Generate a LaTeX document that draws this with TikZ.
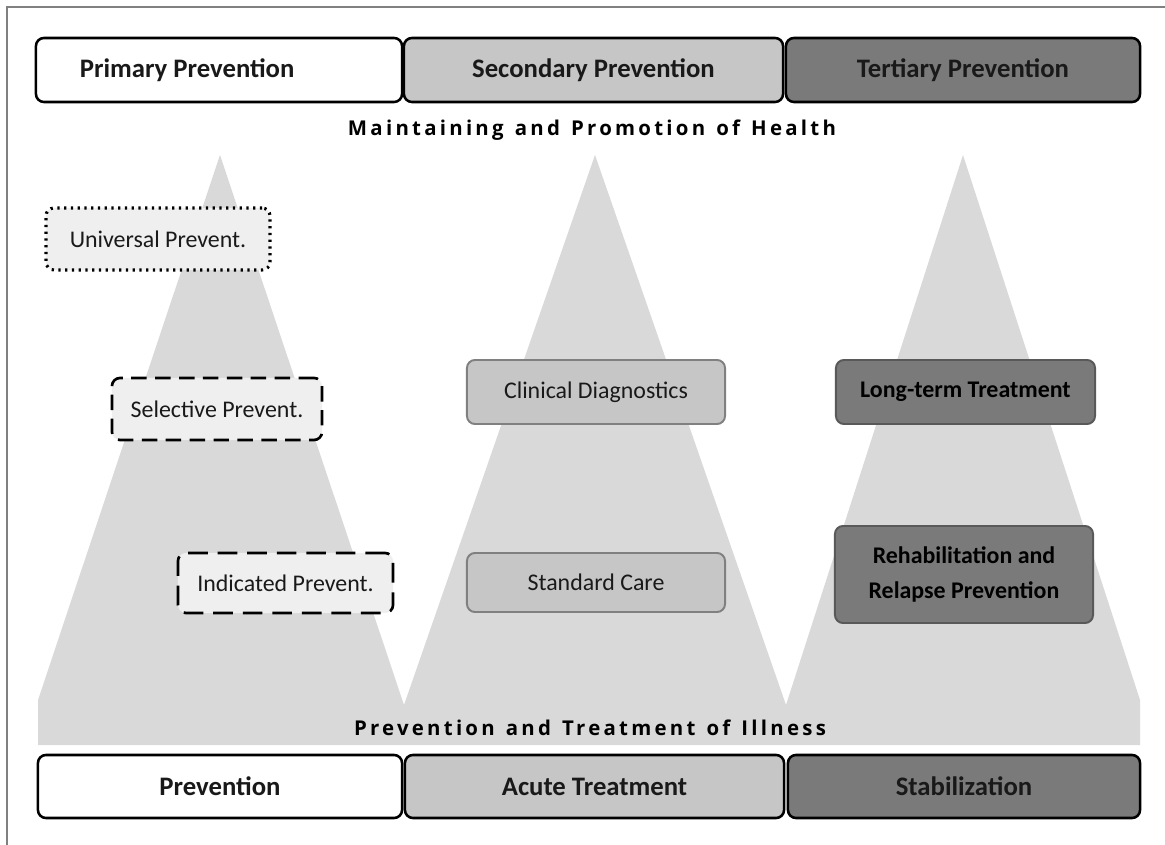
\documentclass[tikz,border=0pt]{standalone}
\usepackage{fontspec}
\setmainfont{Carlito}
\newfontfamily\spacedfont[LetterSpace=16, WordSpace=1.3, Ligatures=NoCommon]{Open Sans}

\definecolor{peak}{HTML}{D9D9D9}
\definecolor{pale}{HTML}{EFEFEF}
\definecolor{midgray}{HTML}{C6C6C6}
\definecolor{darkgray}{HTML}{7A7A7A}

\begin{document}
\begin{tikzpicture}[x=0.025cm, y=-0.025cm,
		bar/.style={draw=black, line width=1.8pt, rounded corners=0.2cm, inner sep=0pt,
			minimum height=1.6cm, font=\fontsize{19}{22}\selectfont\bfseries, text=black!90},
		prevbox/.style={draw=black, fill=pale, line width=1.9pt, rounded corners=0.2cm, inner sep=0pt,
			font=\fontsize{17}{20}\selectfont, text=black!90},
		carebox/.style={draw=black!50, fill=midgray, line width=1.4pt, rounded corners=0.2cm, inner sep=0pt,
			font=\fontsize{17}{20}\selectfont, text=black!90},
		longbox/.style={draw=black!65, fill=darkgray, line width=1.4pt, rounded corners=0.2cm, inner sep=0pt,
			font=\fontsize{17}{25}\selectfont\bfseries, text=black, align=center},
		banner/.style={font={\spacedfont\bfseries\fontsize{14.5}{17}\selectfont}, text=black}]
	\useasboundingbox (0,0) rectangle (1165,845);

	% frame
	\draw[black!50, line width=1.4pt] (7,845) -- (7,7) -- (1165,7);

	% the three peaks on a common band
	\fill[peak] (38,700) -- (220,155) -- (404,705) -- (595,155) -- (786,705)
		-- (963,155) -- (1140,700) -- (1140,745) -- (38,745) -- cycle;

	% stages
	\node[bar, fill=white, minimum width=9.15cm, text width=6.95cm, inner xsep=1.1cm, align=flush left] (primary) at (219,70) {Primary Prevention};
	\node[bar, fill=midgray, minimum width=9.475cm] (secondary) at (593.5,70) {Secondary Prevention};
	\node[bar, fill=darkgray, minimum width=8.85cm] (tertiary) at (963,70) {Tertiary Prevention};

	\node[banner] (health) at (592,130) {Maintaining and Promotion of Health};
	\node[banner] (illness) at (590,728) {Prevention and Treatment of Illness};

	\node[bar, fill=white, minimum width=9.1cm, minimum height=1.575cm] (prevention) at (220,786.5) {Prevention};
	\node[bar, fill=midgray, minimum width=9.475cm, minimum height=1.575cm] (acute) at (594.5,786.5) {Acute Treatment};
	\node[bar, fill=darkgray, minimum width=8.8cm, minimum height=1.575cm] (stabil) at (964,786.5) {Stabilization};

	% primary prevention
	\node[prevbox, line width=2.2pt, dash pattern=on 1.6pt off 3.2pt, minimum width=5.6cm, minimum height=1.55cm] (universal) at (158,239) {Universal Prevent.};
	\node[prevbox, dash pattern=on 11pt off 6pt, minimum width=5.25cm, minimum height=1.55cm] (selective) at (217,409) {Selective Prevent.};
	\node[prevbox, dash pattern=on 14pt off 7pt, minimum width=5.375cm, minimum height=1.5cm] (indicated) at (285.5,583) {Indicated Prevent.};

	% secondary and tertiary
	\node[carebox, minimum width=6.45cm, minimum height=1.6cm] (clinical) at (596,392) {Clinical Diagnostics};
	\node[carebox, minimum width=6.45cm, minimum height=1.475cm] (standard) at (596,582.5) {Standard Care};

	\node[longbox, minimum width=6.475cm, minimum height=1.6cm] (longterm) at (965.5,392) {Long-term Treatment};
	\node[longbox, minimum width=6.45cm, minimum height=2.425cm] (rehab) at (964,574.5) {Rehabilitation and\\Relapse Prevention};
\end{tikzpicture}
\end{document}
